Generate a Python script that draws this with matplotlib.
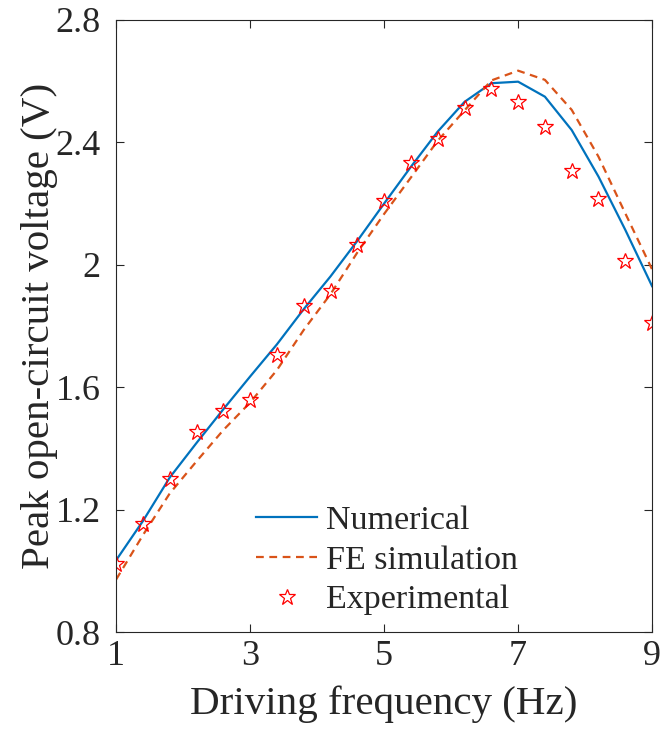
import matplotlib
matplotlib.use("Agg")
import matplotlib.pyplot as plt

freq = [1.0, 1.4, 1.8, 2.2, 2.6, 3.0, 3.4, 3.8, 4.2, 4.6, 5.0, 5.4, 5.8, 6.2, 6.6, 7.0, 7.4, 7.8, 8.2, 8.6, 9.0]
numerical = [1.035, 1.163, 1.305, 1.418, 1.528, 1.635, 1.74, 1.855, 1.962, 2.078, 2.2, 2.32, 2.435, 2.532, 2.593, 2.598, 2.549, 2.44, 2.288, 2.114, 1.93]
fe_sim = [0.972, 1.117, 1.253, 1.358, 1.46, 1.55, 1.656, 1.787, 1.904, 2.04, 2.166, 2.285, 2.405, 2.504, 2.602, 2.634, 2.604, 2.506, 2.353, 2.168, 1.985]
experimental = [1.021, 1.154, 1.30, 1.453, 1.521, 1.557, 1.704, 1.865, 1.914, 2.065, 2.208, 2.332, 2.412, 2.511, 2.574, 2.53, 2.449, 2.307, 2.214, 2.013, 1.809]

xticks = [1, 3, 5, 7, 9]
yticks = [0.8, 1.2, 1.6, 2.0, 2.4, 2.8]
yticklabels = ["0.8", "1.2", "1.6", "2", "2.4", "2.8"]

plt.rcParams['font.family'] = ['Liberation Serif', 'DejaVu Serif']

fig = plt.figure(figsize=(6.6, 7.35), dpi=100)
ax = fig.add_axes([0.176, 0.140, 0.812, 0.833])

ax.plot(freq, numerical, '-', color='#0072BD', lw=1.6, label='Numerical')
ax.plot(freq, fe_sim, '--', color='#D95319', lw=1.6, label='FE simulation', dashes=(3.5, 2.5))
ax.plot(freq, experimental, linestyle='none', marker='*', ms=12, mfc='none', mec='red', mew=0.9, label='Experimental')

ax.set_xlim(1, 9)
ax.set_ylim(0.8, 2.8)
ax.set_xticks(xticks)
ax.set_xticklabels([str(t) for t in xticks])
ax.set_yticks(yticks)
ax.set_yticklabels(yticklabels)
ax.tick_params(direction='in', length=6, width=0.8, top=True, right=True, labelsize=26,
               colors='#262626', labelcolor='#262626')
ax.tick_params(axis='x', pad=6)
ax.tick_params(axis='y', pad=11)
for s in ax.spines.values():
    s.set_color('#262626')
    s.set_linewidth(0.8)

ax.set_xlabel('Driving frequency (Hz)', fontsize=29.5, color='#262626', labelpad=9)
ax.set_ylabel('Peak open-circuit voltage (V)', fontsize=29.5, color='#262626', labelpad=-2)

leg = ax.legend(loc='lower left', bbox_to_anchor=(0.236, 0.005), frameon=False, fontsize=24.5,
                handlelength=1.8, handletextpad=0.25, labelspacing=0.26, borderaxespad=0.0,
                borderpad=0.4)
for t in leg.get_texts():
    t.set_color('#262626')

fig.savefig('out.png', dpi=100)
